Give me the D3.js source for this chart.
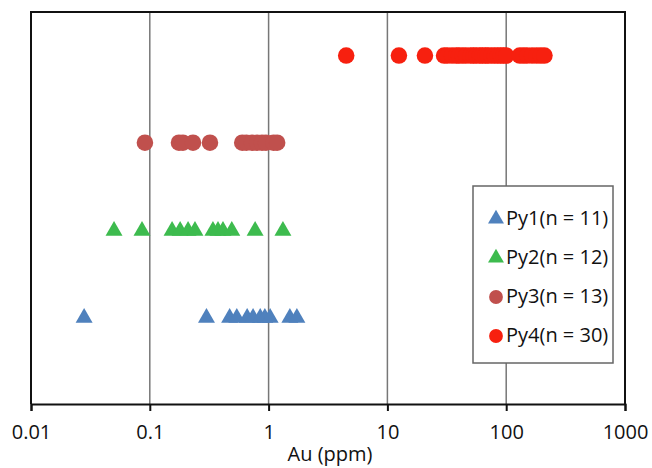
<!DOCTYPE html>
<html>
<head>
<meta charset="utf-8">
<script src="https://cdn.jsdelivr.net/npm/d3@7"></script>
<style>
  body { margin: 0; background: #fff; }
  text { font-family: "Open Sans", "DejaVu Sans", sans-serif; fill: #111; }
</style>
</head>
<body>
<div id="canvas"></div>
<script>
// data (Au in ppm)
var py1 = [0.028, 0.30, 0.47, 0.54, 0.66, 0.74, 0.85, 0.93, 1.03, 1.51, 1.73];
var py2 = [0.050, 0.086, 0.154, 0.18, 0.21, 0.24, 0.34, 0.375, 0.413, 0.49, 0.77, 1.32];
var py3 = [0.091, 0.176, 0.19, 0.231, 0.321, 0.60, 0.65, 0.725, 0.80, 0.88, 0.95, 1.10, 1.18];
var py4 = [4.5, 12.5, 20.7, 30, 32, 35, 38, 40, 43, 46, 50, 53, 56, 60, 63, 67, 70, 75,
           80, 85, 90, 95, 100, 130, 140, 150, 165, 180, 195, 210];
var seriesNames = ["Py1(n = 11)", "Py2(n = 12)", "Py3(n = 13)", "Py4(n = 30)"];
var tickValues = [0.01, 0.1, 1, 10, 100, 1000];

var series = [
  {name: seriesNames[0], row: 1, values: py1, shape: "triangle", color: "#4f81bd"},
  {name: seriesNames[1], row: 2, values: py2, shape: "triangle", color: "#3dbb4e"},
  {name: seriesNames[2], row: 3, values: py3, shape: "circle", color: "#c0504d"},
  {name: seriesNames[3], row: 4, values: py4, shape: "circle", color: "#f7200f"}
];

var w = 652, h = 468;
var mLeft = 31, mRight = 625, mTop = 12, mBottom = 404;

var svg = d3.select("#canvas").append("svg")
  .attr("width", w)
  .attr("height", h);

var x = d3.scaleLog().domain([0.01, 1000]).range([mLeft, mRight]);
var y = d3.scaleLinear().domain([0, 4.5]).range([mBottom, mTop]);

// vertical gridlines
svg.selectAll("line.grid")
  .data(tickValues.slice(1, -1))
  .enter().append("line")
  .attr("class", "grid")
  .attr("x1", d => x(d)).attr("x2", d => x(d))
  .attr("y1", mTop).attr("y2", mBottom)
  .style("stroke", "#777")
  .style("stroke-width", 1.5);

// x axis
var axis = svg.append("g")
  .attr("transform", "translate(0," + mBottom + ")")
  .call(d3.axisBottom(x).tickValues(tickValues).tickFormat(d3.format("~g")).tickSize(7).tickPadding(14));
axis.select(".domain").style("stroke", "#111").style("stroke-width", 2);
axis.selectAll(".tick line").style("stroke", "#111").style("stroke-width", 2);
axis.selectAll(".tick text").style("font-size", "20px").style("fill", "#111")
  .style("font-family", "'Open Sans', sans-serif");

// frame (left, top, right)
svg.append("path")
  .attr("d", "M" + mLeft + "," + mBottom + "V" + mTop + "H" + mRight + "V" + mBottom)
  .style("fill", "none")
  .style("stroke", "#111")
  .style("stroke-width", 2);

svg.append("text")
  .attr("x", (mLeft + mRight) / 2 + 2)
  .attr("y", 461)
  .attr("text-anchor", "middle")
  .style("font-size", "20px")
  .text("Au (ppm)");

var tri = d3.symbol().type(d3.symbolTriangle).size(125);
var circ = d3.symbol().type(d3.symbolCircle).size(215);

series.forEach(function (s) {
  svg.append("g").selectAll("path")
    .data(s.values)
    .enter().append("path")
    .attr("d", s.shape === "triangle" ? tri : circ)
    .attr("transform", d => "translate(" + x(d) + "," + (y(s.row) + (s.shape === "triangle" ? 1 : 0)) + ")")
    .style("fill", s.color);
});

// legend
var lg = svg.append("g");
lg.append("rect")
  .attr("x", 473).attr("y", 186)
  .attr("width", 140).attr("height", 177)
  .style("fill", "#fff")
  .style("stroke", "#666")
  .style("stroke-width", 1.5);

var ly = d3.scaleLinear().domain([0, 3]).range([218, 335]);
series.forEach(function (s, i) {
  lg.append("path")
    .attr("d", s.shape === "triangle" ? d3.symbol().type(d3.symbolTriangle).size(110)
                                      : d3.symbol().type(d3.symbolCircle).size(150))
    .attr("transform", "translate(496," + (ly(i) + 1) + ")")
    .style("fill", s.color);
  lg.append("text")
    .attr("x", 506)
    .attr("y", ly(i) + 7)
    .style("font-size", "20px")
    .text(s.name);
});
</script>
</body>
</html>
